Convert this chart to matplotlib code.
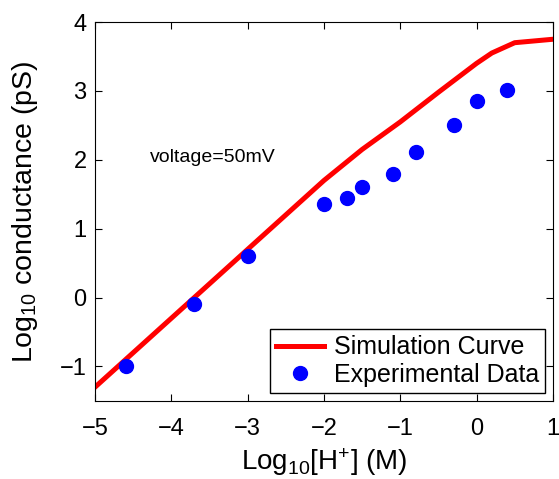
import matplotlib
matplotlib.use('Agg')
import matplotlib.pyplot as plt

plt.rcParams['font.family'] = 'Liberation Sans'
plt.rcParams['mathtext.default'] = 'regular'

# simulation curve
sim_x = [-5, -4.5, -4, -3.5, -3, -2.5, -2, -1.5, -1, -0.5, 0, 0.2, 0.5, 1]
sim_y = [-1.3, -0.8, -0.3, 0.2, 0.7, 1.2, 1.7, 2.15, 2.55, 2.98, 3.40, 3.55, 3.70, 3.75]

# experimental data
exp_x = [-4.6, -3.7, -3.0, -2.0, -1.7, -1.5, -1.1, -0.8, -0.3, 0.0, 0.4]
exp_y = [-1.0, -0.1, 0.6, 1.36, 1.44, 1.61, 1.8, 2.11, 2.51, 2.86, 3.01]

fig = plt.figure(figsize=(5.59, 4.79), dpi=100)
ax = fig.add_axes([0.170, 0.163, 0.819, 0.791])

ax.plot(sim_x, sim_y, color='red', lw=3.6, label='Simulation Curve')
ax.plot(exp_x, exp_y, 'o', color='blue', ms=10, label='Experimental Data')

ax.set_xlim(-5, 1)
ax.set_ylim(-1.5, 4)
ax.set_xticks([-5, -4, -3, -2, -1, 0, 1])
ax.set_yticks([-1, 0, 1, 2, 3, 4])
ax.tick_params(direction='in', top=True, right=True, labelsize=17, length=5)
ax.tick_params(axis='x', pad=12)
ax.tick_params(axis='y', pad=6)

ax.set_xlabel('Log$_{10}$[H$^{+}$] (M)', fontsize=20, labelpad=5)
ax.set_ylabel('Log$_{10}$ conductance (pS)', fontsize=20.5, labelpad=14)

ax.text(-4.28, 2.03, 'voltage=50mV', fontsize=14, va='center')

leg = ax.legend(loc='lower right', fontsize=18, fancybox=False, edgecolor='black',
                framealpha=1, borderaxespad=0.3, handlelength=1.9, handletextpad=0.4,
                labelspacing=0.15, borderpad=0.25)
leg.get_frame().set_linewidth(1.0)

fig.savefig('out.png', dpi=100)
